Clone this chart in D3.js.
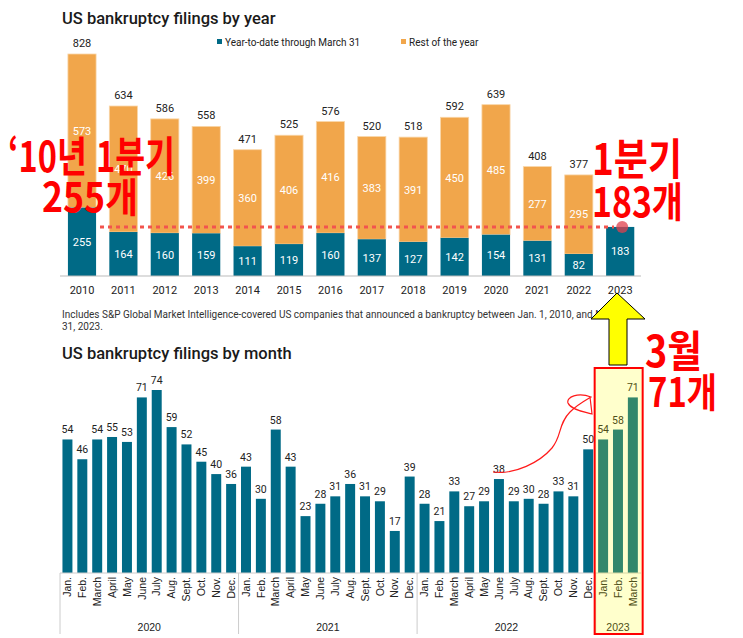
<!DOCTYPE html>
<html lang="ko">
    <head>
        <meta charset="utf-8">
        <title>US bankruptcy filings</title>
        <script type="text/javascript" src="https://d3js.org/d3.v7.min.js"></script>
        <style>
            body { margin: 0; background: #fff; }
            svg { font-family: Roboto, "Liberation Sans", sans-serif; }
            .title { font-size: 16.5px; font-weight: 500; fill: #1a1a1a; }
            .note { font-size: 10px; fill: #333; }
            .big { font-family: "Noto Sans CJK KR", sans-serif; font-weight: 700; fill: #ff0000; }
        </style>
    </head>
    <body>
        <script>
            // data - by year
            const years = ["2010","2011","2012","2013","2014","2015","2016","2017","2018","2019","2020","2021","2022","2023"];
            const ytd = [255,164,160,159,111,119,160,137,127,142,154,131,82,183];
            const restOfYear = [573,470,426,399,360,406,416,383,391,450,485,277,295,0];
            const totals = [828,634,586,558,471,525,576,520,518,592,639,408,377,null];

            // data - by month
            const monthNames = ["Jan.","Feb.","March","April","May","June","July","Aug.","Sept.","Oct.","Nov.","Dec."];
            const monthYears = ["2020","2021","2022","2023"];
            const monthly = [54,46,54,55,53,71,74,59,52,45,40,36,
                             43,30,58,43,23,28,31,36,31,29,17,39,
                             28,21,33,27,29,38,29,30,28,33,31,50,
                             54,58,71];

            const teal = "#006a86";
            const orange = "#f1a64b";

            const w = 743;
            const h = 638;
            const svg = d3.select("body")
                        .append("svg")
                        .attr("width", w)
                        .attr("height", h)

            // ---------- top chart ----------
            svg.append("text").attr("class", "title")
                .attr("x", 62).attr("y", 24)
                .text("US bankruptcy filings by year")

            // legend
            const legend = [["Year-to-date through March 31", teal, 217], ["Rest of the year", orange, 401]];
            legend.forEach(function(l){
                svg.append("rect").attr("x", l[2]).attr("y", 39).attr("width", 5).attr("height", 5).attr("fill", l[1])
                svg.append("text").attr("x", l[2] + 8).attr("y", 45.5)
                    .attr("font-size", "10px").attr("fill", "#222").text(l[0])
            })

            const base1 = 276;
            const xYear = d3.scaleBand()
                            .domain(years)
                            .range([61.3, 640.9])
                            .paddingInner(0.32)
                            .paddingOuter(0.16)
            const yYear = d3.scaleLinear()
                            .domain([0, 828])
                            .range([base1, 54])

            const rows = years.map(function(y, i){ return {year: y, ytd: ytd[i], rest: restOfYear[i], total: totals[i]} });

            // orange (rest of year) segments on top of teal
            svg.selectAll("rect.rest")
                .data(rows.filter(function(d){ return d.rest > 0 }))
                .enter()
                .append("rect")
                .attr("class", "rest")
                .attr("x", function(d){ return xYear(d.year) })
                .attr("width", xYear.bandwidth())
                .attr("y", function(d){ return yYear(d.ytd + d.rest) })
                .attr("height", function(d){ return yYear(d.ytd) - yYear(d.ytd + d.rest) })
                .attr("fill", orange)
                .attr("stroke", "#f9d6a8")
                .attr("stroke-width", 0.8)

            svg.selectAll("rect.ytd")
                .data(rows)
                .enter()
                .append("rect")
                .attr("class", "ytd")
                .attr("x", function(d){ return xYear(d.year) })
                .attr("width", xYear.bandwidth())
                .attr("y", function(d){ return yYear(d.ytd) })
                .attr("height", function(d){ return base1 - yYear(d.ytd) })
                .attr("fill", teal)

            // labels inside bars
            svg.selectAll("text.restLbl")
                .data(rows.filter(function(d){ return d.rest > 0 }))
                .enter()
                .append("text")
                .attr("x", function(d){ return xYear(d.year) + xYear.bandwidth() / 2 })
                .attr("y", function(d){ return (yYear(d.ytd) + yYear(d.ytd + d.rest)) / 2 + 4 })
                .attr("text-anchor", "middle")
                .attr("font-size", "11px")
                .attr("fill", "#fff")
                .text(function(d){ return d.rest })

            svg.selectAll("text.ytdLbl")
                .data(rows)
                .enter()
                .append("text")
                .attr("x", function(d){ return xYear(d.year) + xYear.bandwidth() / 2 })
                .attr("y", function(d){ return (yYear(d.ytd) + base1) / 2 + 4 })
                .attr("text-anchor", "middle")
                .attr("font-size", "11px")
                .attr("fill", "#fff")
                .text(function(d){ return d.ytd })

            svg.selectAll("text.totLbl")
                .data(rows.filter(function(d){ return d.total !== null }))
                .enter()
                .append("text")
                .attr("x", function(d){ return xYear(d.year) + xYear.bandwidth() / 2 })
                .attr("y", function(d){ return yYear(d.total) - 7 })
                .attr("text-anchor", "middle")
                .attr("font-size", "11px")
                .attr("fill", "#222")
                .text(function(d){ return d.total })

            // x axis
            const xAxis1 = d3.axisBottom(xYear).tickSize(0).tickPadding(10)
            const gx1 = svg.append("g")
                .attr("transform", `translate(0,${base1})`)
                .call(xAxis1)
            gx1.select(".domain").attr("stroke", "#bbb").attr("d", "M60,0H641")
            gx1.selectAll("text").attr("font-size", "11px").attr("fill", "#222").attr("font-family", "Roboto, sans-serif")

            // footnote
            svg.append("text").attr("class", "note").attr("x", 62).attr("y", 318)
                .text("Includes S&P Global Market Intelligence-covered US companies that announced a bankruptcy between Jan. 1, 2010, and March")
            svg.append("text").attr("class", "note").attr("x", 62).attr("y", 330)
                .text("31, 2023.")

            // ---------- bottom chart ----------
            svg.append("text").attr("class", "title")
                .attr("x", 62).attr("y", 359)
                .text("US bankruptcy filings by month")

            const base2 = 573;
            const monthKeys = monthly.map(function(v, i){ return monthYears[Math.floor(i / 12)] + "-" + monthNames[i % 12] });
            const xMonth = d3.scaleBand()
                            .domain(monthKeys)
                            .range([60, 640.3])
                            .paddingInner(0.33)
                            .paddingOuter(0.165)
            const yMonth = d3.scaleLinear()
                            .domain([0, 74])
                            .range([base2, 390])

            svg.selectAll("rect.month")
                .data(monthly)
                .enter()
                .append("rect")
                .attr("x", function(d, i){ return xMonth(monthKeys[i]) })
                .attr("width", xMonth.bandwidth())
                .attr("y", function(d){ return yMonth(d) })
                .attr("height", function(d){ return base2 - yMonth(d) })
                .attr("fill", teal)

            svg.selectAll("text.monthLbl")
                .data(monthly)
                .enter()
                .append("text")
                .attr("x", function(d, i){ return xMonth(monthKeys[i]) + xMonth.bandwidth() / 2 })
                .attr("y", function(d){ return yMonth(d) - 6 })
                .attr("text-anchor", "middle")
                .attr("font-size", "10.5px")
                .attr("fill", "#222")
                .text(function(d){ return d })

            const xAxis2 = d3.axisBottom(xMonth).tickSize(0).tickFormat(function(k){ return k.split("-")[1] })
            const gx2 = svg.append("g")
                .attr("transform", `translate(0,${base2})`)
                .call(xAxis2)
            gx2.select(".domain").attr("stroke", "#ccc").attr("d", "M60,0H641")
            gx2.selectAll(".tick text")
                .attr("transform", "rotate(-90)")
                .attr("text-anchor", "end")
                .attr("x", -4).attr("y", 0).attr("dy", "0.35em")
                .attr("font-size", "10.5px").attr("fill", "#222")
                .attr("font-family", "Liberation Sans, Arial, sans-serif")

            // year groups
            monthYears.forEach(function(y, gi){
                const first = xMonth(monthKeys[gi * 12]) - xMonth.step() * xMonth.paddingInner() / 2;
                const lastIdx = Math.min(gi * 12 + 11, monthly.length - 1);
                const last = xMonth(monthKeys[lastIdx]) + xMonth.bandwidth() + xMonth.step() * xMonth.paddingInner() / 2;
                svg.append("line").attr("x1", first).attr("x2", first).attr("y1", base2).attr("y2", 634)
                    .attr("stroke", "#ccc")
                svg.append("text").attr("x", (first + last) / 2).attr("y", 631)
                    .attr("text-anchor", "middle").attr("font-size", "10.5px").attr("fill", "#222")
                    .attr("font-family", "Liberation Sans, Arial, sans-serif")
                    .text(y)
            })

            // ---------- annotations ----------
            // dotted line at 2023 Q1 level
            svg.append("line")
                .attr("x1", 100).attr("x2", 614)
                .attr("y1", yYear(ytd[13])).attr("y2", yYear(ytd[13]))
                .attr("stroke", "#f2544e").attr("stroke-width", 3).attr("stroke-dasharray", "4,4")
            svg.append("circle")
                .attr("cx", xYear("2023") + xYear.bandwidth() / 2 + 2).attr("cy", yYear(ytd[13]))
                .attr("r", 6).attr("fill", "#e0404c").attr("opacity", 0.75)

            // yellow highlight box over 2023 months
            const boxL = xMonth(monthKeys[36]) - xMonth.step() * xMonth.paddingInner() / 2 - 1;
            svg.append("rect")
                .attr("x", boxL).attr("y", 368).attr("width", 48).attr("height", 266)
                .attr("fill", "#ffff00").attr("fill-opacity", 0.2)
                .attr("stroke", "#ff0000").attr("stroke-width", 2)

            // yellow arrow
            svg.append("path")
                .attr("d", "M617,293L645,319L627,319L627,365L609,365L609,319L591,319Z")
                .attr("fill", "#ffff00").attr("stroke", "#000").attr("stroke-width", 1)

            // hand-drawn arrow
            svg.append("path")
                .attr("d", "M493,472C515,475 540,462 552,448C562,436 558,424 570,412C578,404 586,400 591,397C578,392 566,397 568,403C571,410 585,412 592,414L590,397")
                .attr("fill", "none").attr("stroke", "#ff1a1a").attr("stroke-width", 1.2)

            // big red notes
            const notes = [
                ["\u201810년 1분기", 8, 172, 42, 167],
                ["255개", 42, 212, 40, 96],
                ["1분기", 592, 175, 43, 90],
                ["183개", 592, 217, 41, 91],
                ["3월", 645, 367, 43, 57],
                ["71개", 648, 407, 40, 69]
            ];
            notes.forEach(function(n){
                svg.append("text").attr("class", "big")
                    .attr("x", n[1]).attr("y", n[2])
                    .attr("font-size", n[3] + "px")
                    .attr("textLength", n[4]).attr("lengthAdjust", "spacingAndGlyphs")
                    .text(n[0])
            })
        </script>
    </body>
</html>
